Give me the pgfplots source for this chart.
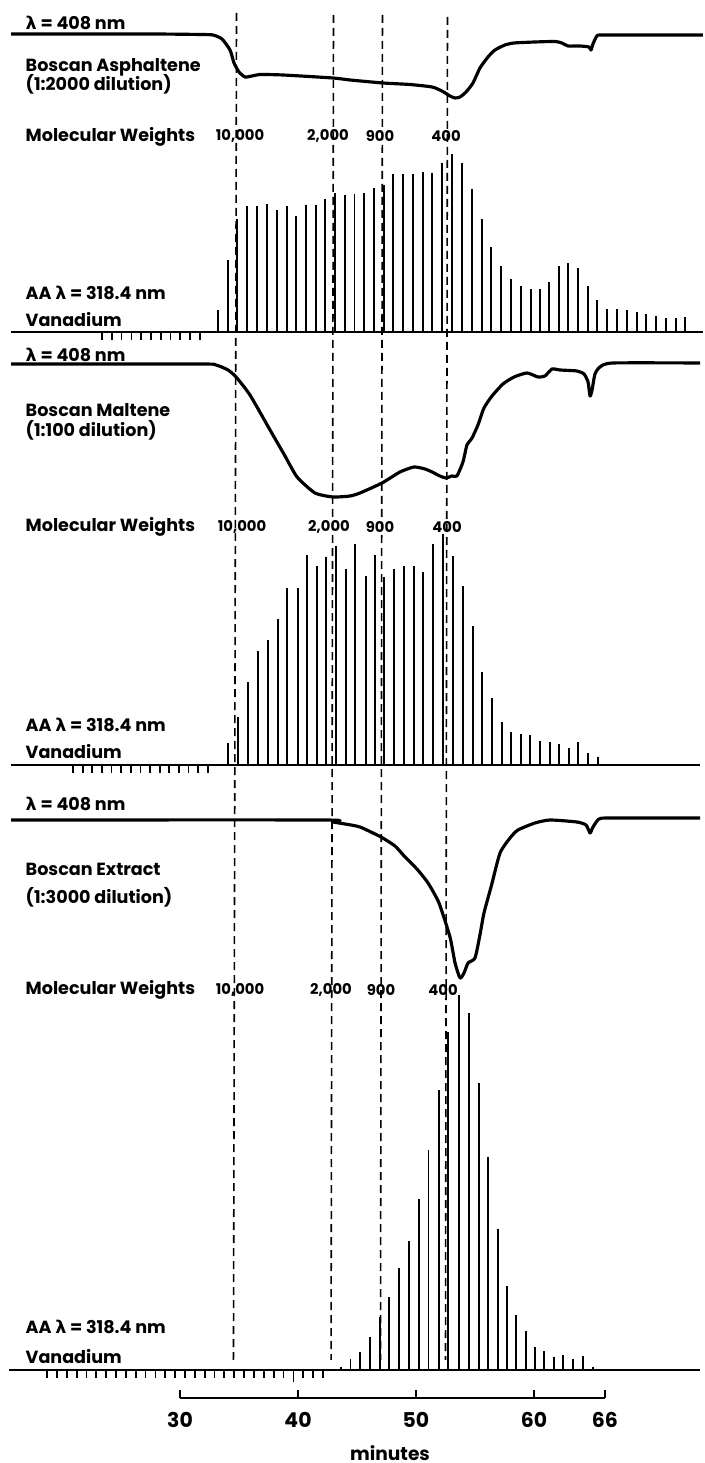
\documentclass[border=0pt]{standalone}
\usepackage{fontspec}
\setmainfont{Poppins}
\newfontfamily\lamfont{DejaVu Sans}
\usepackage{pgfplots}
\pgfplotsset{compat=1.18}
\newcommand{\lam}{{\lamfont\bfseries λ}}
\newcommand{\fsA}{\fontsize{5.0}{5.6}\selectfont\bfseries}
\newcommand{\fsB}{\fontsize{4.2}{5}\selectfont\bfseries}
\pgfplotsset{
  panel/.style={scale only axis, width=7.05cm, xmin=14.746, xmax=74.492, hide axis, clip=false},
  bars/.style={ycomb, black, line width=0.55pt},
  marks/.style={ycomb, black, line width=0.5pt},
  base/.style={black, line width=0.8pt},
  trace/.style={black, line width=0.9pt, line join=round, smooth, tension=0.35},
}
\begin{document}
\begin{tikzpicture}
\useasboundingbox (0,0) rectangle (7.05,14.63);

% ---------- dashed molecular-weight lines (frame axis, y in px from bottom)
\begin{axis}[panel, at={(0cm,0cm)}, anchor=south west, ymin=0, ymax=1463, height=14.63cm]
\addplot[black, line width=0.45pt, dash pattern=on 0.08cm off 0.05cm] coordinates {(34.79,1450) (34.53,103)};
\addplot[black, line width=0.45pt, dash pattern=on 0.08cm off 0.05cm] coordinates {(43.01,1448) (42.80,103)};
\addplot[black, line width=0.45pt, dash pattern=on 0.08cm off 0.05cm] coordinates {(47.16,1448) (46.99,103)};
\addplot[black, line width=0.45pt, dash pattern=on 0.08cm off 0.05cm] coordinates {(52.67,1446) (52.50,103)};
\end{axis}

% ================= PANEL 1 =================
\begin{axis}[panel, at={(0cm,14.34cm)}, anchor=north west, y dir=reverse, ymin=-5, ymax=70, height=0.75cm]
\addplot[trace] coordinates {
(15.68,0) (27.46,0) (31.69,0.5) (32.80,1) (33.56,5) (34.24,16) (34.58,29) (35.00,38)
(35.51,43) (36.10,42) (36.78,40.5) (38.73,41) (42.97,44) (44.41,46) (47.20,49) (49.49,50.5)
(51.36,53) (52.20,57) (52.88,62) (53.31,64) (53.73,63) (54.24,58) (54.83,49) (55.42,34)
(56.10,23) (56.69,16) (57.54,11) (58.31,9) (60.08,8) (61.78,7.5) (62.37,9) (62.88,12)
(63.90,12) (64.66,13) (64.83,16) (65.00,10) (65.34,2) (66.02,1) (74.32,1)};
\end{axis}
\begin{axis}[panel, at={(0cm,11.16cm)}, anchor=south west, ymin=-15, ymax=185, height=2.00cm]
\addplot[base] coordinates {(15.68,0) (74.32,0)};
\addplot[marks] coordinates {(23.39,-8) (24.22,-8) (25.05,-8) (25.88,-8) (26.71,-8) (27.54,-8) (28.37,-8) (29.20,-8) (30.03,-8) (30.86,-8) (31.69,-8)};
\addplot[bars] coordinates {
(33.22,22.3) (34.03,72.3) (34.87,113.2) (35.70,126.4) (36.51,125.8) (37.35,128.2) (38.19,122.1)
(39.03,125.5) (39.82,115.5) (40.67,127.1) (41.51,127.1) (42.31,133.1) (43.14,138.7) (43.98,137.1)
(44.79,138.1) (45.63,139.4) (46.43,143.5) (47.27,147.0) (48.07,158.1) (48.92,158.1) (49.75,158.1)
(50.59,160.4) (51.39,158.8) (52.23,168.7) (53.08,178) (53.92,168.7) (54.75,142.8) (55.59,112.9)
(56.39,85.4) (57.24,65.5) (58.08,52.9) (58.87,46.3) (59.71,42.9) (60.52,42.9) (61.31,49.7)
(62.12,65.5) (62.92,68.9) (63.76,63.9) (64.56,46.3) (65.37,32.2) (66.20,23.0) (67.04,23.0)
(67.85,22.3) (68.69,19.6) (69.53,18.3) (70.33,15.7) (71.17,14.1) (72.01,14.1) (72.81,15.0)};
\end{axis}

% ================= PANEL 2 =================
\begin{axis}[panel, at={(0cm,11.04cm)}, anchor=north west, y dir=reverse, ymin=-5, ymax=140, height=1.45cm]
\addplot[trace] coordinates {
(15.68,0) (31.69,0) (33.05,1) (34.07,6) (34.75,13) (35.93,31) (37.63,66) (38.90,92)
(39.92,113) (41.44,129) (42.97,133) (44.41,132) (45.25,129) (47.12,119) (48.64,108) (49.83,103)
(50.76,105) (51.36,108) (52.03,112) (52.54,114) (53.05,112) (53.47,112) (53.98,98) (54.32,81)
(54.75,74) (55.25,61) (55.76,44) (56.44,32) (57.37,20) (58.31,13) (59.41,9) (60.34,13)
(60.93,12) (61.53,5) (62.20,6) (63.64,7) (64.24,10) (64.58,18) (64.75,32) (64.92,26)
(65.17,10) (65.59,3) (66.69,-1) (74.07,-1)};
\end{axis}
\begin{axis}[panel, at={(0cm,6.83cm)}, anchor=south west, ymin=-15, ymax=240, height=2.55cm]
\addplot[base] coordinates {(15.68,0) (74.07,0)};
\addplot[marks] coordinates {(20.93,-8) (21.75,-8) (22.57,-8) (23.38,-8) (24.20,-8) (25.02,-8) (25.83,-8) (26.65,-8) (27.47,-8) (28.28,-8) (29.10,-8) (29.92,-8) (30.73,-8) (31.55,-8) (32.37,-8)};
\addplot[bars] coordinates {
(34.07,21.7) (34.94,48.3) (35.76,83.3) (36.64,114) (37.48,125) (38.31,145.7) (39.09,176.7)
(39.98,176.7) (40.79,210) (41.59,199) (42.37,207.7) (43.20,219.3) (44.07,195.7) (44.86,220.7)
(45.74,189) (46.55,210) (47.31,187.7) (48.14,196) (48.98,199) (49.81,199) (50.62,193.3)
(51.44,221) (52.31,231) (53.16,209) (54.01,179) (54.81,139) (55.62,93.3) (56.42,66.7)
(57.26,43.3) (58.03,33.3) (58.87,31) (59.69,30) (60.53,24) (61.33,23.3) (62.14,21)
(62.97,16.7) (63.75,22.7) (64.58,12.3) (65.40,7.7)};
\end{axis}

% ================= PANEL 3 =================
\begin{axis}[panel, at={(0cm,6.48cm)}, anchor=north west, y dir=reverse, ymin=-5, ymax=165, height=1.70cm]
\addplot[trace] coordinates {
(15.68,0) (42.20,0) (42.97,2) (43.98,4) (45.25,7) (47.03,17) (48.22,26) (49.07,37)
(50.08,49) (51.02,63) (51.95,83) (52.88,117) (53.31,143) (53.73,158) (54.07,153) (54.41,143)
(55.00,138) (55.42,115) (55.76,93) (56.36,67) (57.12,33) (57.97,18) (58.64,10) (60.08,3)
(61.36,0) (63.64,2) (64.41,5) (64.75,13) (65.00,7) (65.51,-1) (66.44,-2) (74.07,-2)};
\end{axis}
\begin{axis}[panel, at={(0cm,0.78cm)}, anchor=south west, ymin=-15, ymax=385, height=4.00cm]
\addplot[base] coordinates {(15.51,0) (74.07,0)};
\addplot[marks] coordinates {(18.73,-8) (19.57,-8) (20.40,-8) (21.24,-8) (22.07,-8) (22.91,-8) (23.74,-8) (24.58,-8) (25.41,-8) (26.25,-8) (27.08,-8) (27.92,-8) (28.75,-8) (29.59,-8) (30.42,-8) (31.26,-8) (32.09,-8) (32.93,-8) (33.76,-8) (34.60,-8) (35.44,-8) (36.27,-8) (37.11,-8) (37.94,-8) (38.78,-8) (39.61,-12) (40.45,-8) (41.28,-8) (42.12,-8)};
\addplot[bars] coordinates {
(43.64,3) (44.45,10.7) (45.25,18.3) (46.10,33.3) (46.95,53.3) (47.75,73) (48.59,102)
(49.43,129) (50.25,171) (51.06,220) (51.93,280) (52.75,338) (53.64,375) (54.53,357)
(55.30,287) (56.10,213) (56.91,141) (57.70,84) (58.50,55) (59.30,39) (60.06,23.3)
(60.85,19.3) (61.70,13.3) (62.46,15) (63.31,10.7) (64.15,14) (65.00,3)};
\end{axis}

% ================= minutes axis =================
\begin{axis}[scale only axis, at={(1.80cm,0.65cm)}, anchor=south west, width=4.248cm, height=0.3cm,
  xmin=30, xmax=66, ymin=0, ymax=1, axis x line*=bottom, hide y axis,
  xtick={30,40,50,60,66}, tick align=inside, major tick length=0.08cm,
  axis line style={line width=0.65pt}, every tick/.style={black, line width=0.65pt},
  /pgf/number format/assume math mode=true,
  xticklabel style={font=\fontsize{5.8}{6}\selectfont\bfseries, yshift=-0.02cm}]
\addplot[draw=none] coordinates {(30,0) (66,0)};
\end{axis}

% ================= labels =================
\begin{scope}[every node/.style={inner sep=0pt, anchor=west}]
\node at (0.25,14.40) {\fsA\lam\ = 408 nm};
\node at (0.25,13.96) {\fsA Boscan Asphaltene};
\node at (0.25,13.79) {\fsA (1:2000 dilution)};
\node at (0.25,13.26) {\fsA Molecular Weights};
\node at (0.25,11.70) {\fsA AA \lam\ = 318.4 nm};
\node at (0.25,11.43) {\fsA Vanadium};

\node at (0.25,11.08) {\fsA\lam\ = 408 nm};
\node at (0.25,10.53) {\fsA Boscan Maltene};
\node at (0.25,10.33) {\fsA (1:100 dilution)};
\node at (0.25,9.36) {\fsA Molecular Weights};
\node at (0.25,7.38) {\fsA AA \lam\ = 318.4 nm};
\node at (0.25,7.11) {\fsA Vanadium};

\node at (0.25,6.59) {\fsA\lam\ = 408 nm};
\node at (0.25,5.94) {\fsA Boscan Extract};
\node at (0.25,5.66) {\fsA (1:3000 dilution)};
\node at (0.25,4.73) {\fsA Molecular Weights};
\node at (0.25,1.36) {\fsA AA \lam\ = 318.4 nm};
\node at (0.25,1.06) {\fsA Vanadium};
\end{scope}
\begin{scope}[every node/.style={inner sep=0pt, anchor=center}]
\node at (2.40,13.27) {\fsB 10,000};
\node at (3.28,13.27) {\fsB 2,000};
\node at (3.80,13.27) {\fsB 900};
\node at (4.46,13.27) {\fsB 400};
\node at (2.42,9.36) {\fsB 10,000};
\node at (3.29,9.36) {\fsB 2,000};
\node at (3.80,9.36) {\fsB 900};
\node at (4.47,9.36) {\fsB 400};
\node at (2.40,4.73) {\fsB 10,000};
\node at (3.31,4.73) {\fsB 2,000};
\node at (3.81,4.73) {\fsB 900};
\node at (4.43,4.73) {\fsB 400};
\node at (3.90,0.10) {\fontsize{5.3}{6}\selectfont\bfseries minutes};
\end{scope}
\end{tikzpicture}
\end{document}
